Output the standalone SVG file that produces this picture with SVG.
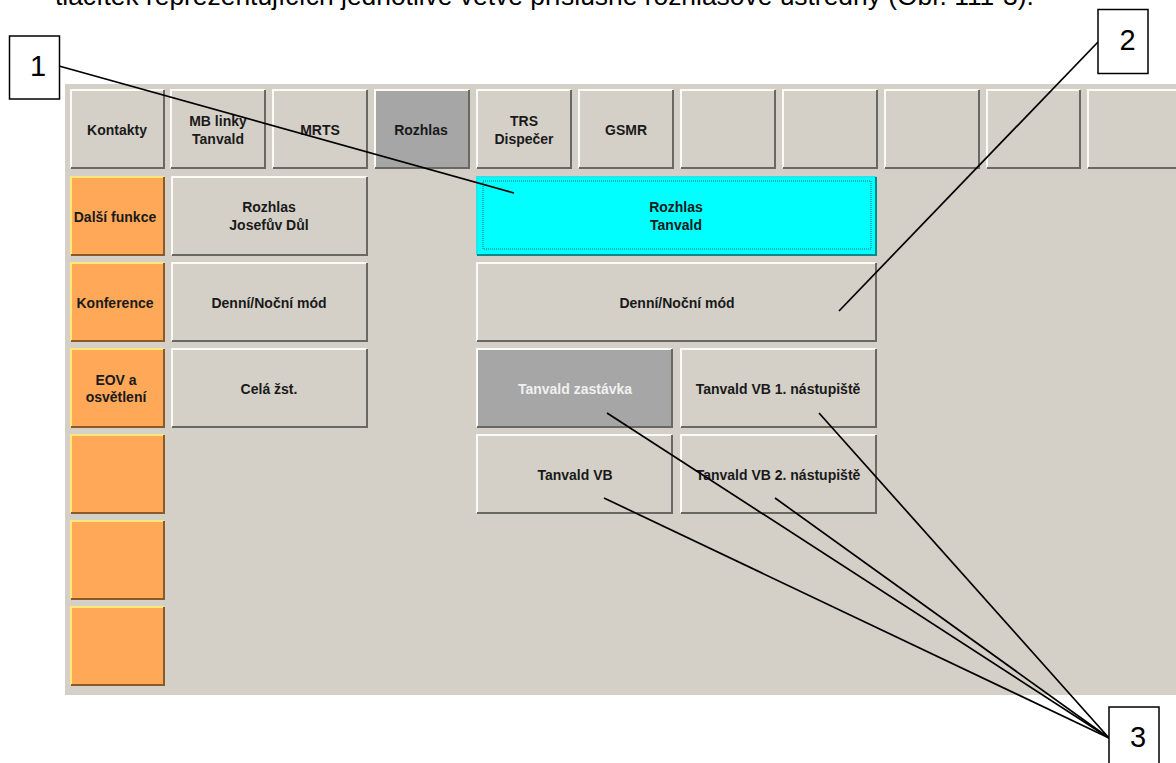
<svg xmlns="http://www.w3.org/2000/svg" width="1176" height="763" viewBox="0 0 1176 763">
<style>
text{font-family:"Liberation Sans",Arial,sans-serif}
.t{font-size:14px;font-weight:bold;fill:#1a1a1a;text-anchor:middle}
.w{fill:#f0f0f0}
.f{fill:#d4d0c8}.o{fill:#ffa858}.d{fill:#a6a6a6}.c{fill:#00ffff}
.hl{stroke:#fbfaf6;stroke-width:2;fill:none}
.sh{stroke:#6a6862;stroke-width:2;fill:none}
.ohl{stroke:#ffe878;stroke-width:2;fill:none}
.osh{stroke:#8a5a28;stroke-width:2;fill:none}
.chl{stroke:#20e8e8;stroke-width:2;fill:none}
.csh{stroke:#008a8a;stroke-width:2;fill:none}
.box{fill:#fff;stroke:#000;stroke-width:1.5}
.n{font-size:29px;fill:#000;text-anchor:middle}
.l{stroke:#000;stroke-width:1.7;fill:none}
</style>
<rect width="1176" height="763" fill="#fff"/>
<text x="55" y="4.500" font-size="26.4" fill="#000">tlačítek reprezentujících jednotlivé větve příslušné rozhlasové ústředny (Obr. 111-3).</text>
<rect id="panel" x="65" y="84" width="1111" height="611" class="f"/>
<g id="btn-kontakty"><rect x="71" y="90" width="93" height="78" class="f"/><path d="M71 168V90H164" class="hl"/><path d="M71 168H164V90" class="sh"/><text x="117" y="135" class="t">Kontakty</text></g>
<g id="btn-mb"><rect x="171" y="90" width="94" height="78" class="f"/><path d="M171 168V90H265" class="hl"/><path d="M171 168H265V90" class="sh"/><text x="218" y="126" class="t">MB linky</text><text x="218" y="144" class="t">Tanvald</text></g>
<g id="btn-mrts"><rect x="273" y="90" width="94" height="78" class="f"/><path d="M273 168V90H367" class="hl"/><path d="M273 168H367V90" class="sh"/><text x="320" y="135" class="t">MRTS</text></g>
<g id="btn-rozhlas"><rect x="375" y="90" width="94" height="78" class="d"/><path d="M375 168V90H469" class="hl"/><path d="M375 168H469V90" class="sh"/><text x="421" y="135" class="t">Rozhlas</text></g>
<g id="btn-trs"><rect x="477" y="90" width="94" height="78" class="f"/><path d="M477 168V90H571" class="hl"/><path d="M477 168H571V90" class="sh"/><text x="524" y="126" class="t">TRS</text><text x="524" y="144" class="t">Dispečer</text></g>
<g id="btn-gsmr"><rect x="579" y="90" width="94" height="78" class="f"/><path d="M579 168V90H673" class="hl"/><path d="M579 168H673V90" class="sh"/><text x="626" y="135" class="t">GSMR</text></g>
<g id="btn-e1"><rect x="681" y="90" width="94" height="78" class="f"/><path d="M681 168V90H775" class="hl"/><path d="M681 168H775V90" class="sh"/></g>
<g id="btn-e2"><rect x="783" y="90" width="94" height="78" class="f"/><path d="M783 168V90H877" class="hl"/><path d="M783 168H877V90" class="sh"/></g>
<g id="btn-e3"><rect x="885" y="90" width="94" height="78" class="f"/><path d="M885 168V90H979" class="hl"/><path d="M885 168H979V90" class="sh"/></g>
<g id="btn-e4"><rect x="987" y="90" width="93" height="78" class="f"/><path d="M987 168V90H1080" class="hl"/><path d="M987 168H1080V90" class="sh"/></g>
<g id="btn-e5"><rect x="1088" y="90" width="88" height="78" class="f"/><path d="M1088 168V90H1176" class="hl"/><path d="M1088 168H1176" class="sh"/></g>
<g id="btn-dalsi"><rect x="71" y="177" width="93" height="78" class="o"/><path d="M71 255V177H164" class="ohl"/><path d="M71 255H164V177" class="osh"/><text x="115" y="222" class="t">Další funkce</text></g>
<g id="btn-konf"><rect x="71" y="263" width="93" height="78" class="o"/><path d="M71 341V263H164" class="ohl"/><path d="M71 341H164V263" class="osh"/><text x="115" y="308" class="t">Konference</text></g>
<g id="btn-eov"><rect x="71" y="349" width="93" height="78" class="o"/><path d="M71 427V349H164" class="ohl"/><path d="M71 427H164V349" class="osh"/><text x="116" y="385" class="t">EOV a</text><text x="116" y="402" class="t">osvětlení</text></g>
<g id="btn-o4"><rect x="71" y="435" width="93" height="78" class="o"/><path d="M71 513V435H164" class="ohl"/><path d="M71 513H164V435" class="osh"/></g>
<g id="btn-o5"><rect x="71" y="521" width="93" height="78" class="o"/><path d="M71 599V521H164" class="ohl"/><path d="M71 599H164V521" class="osh"/></g>
<g id="btn-o6"><rect x="71" y="607" width="93" height="78" class="o"/><path d="M71 685V607H164" class="ohl"/><path d="M71 685H164V607" class="osh"/></g>
<g id="btn-josefuv"><rect x="172" y="177" width="195" height="78" class="f"/><path d="M172 255V177H367" class="hl"/><path d="M172 255H367V177" class="sh"/><text x="269" y="212" class="t">Rozhlas</text><text x="269" y="230" class="t">Josefův Důl</text></g>
<g id="btn-mod1"><rect x="172" y="263" width="195" height="78" class="f"/><path d="M172 341V263H367" class="hl"/><path d="M172 341H367V263" class="sh"/><text x="269" y="308" class="t">Denní/Noční mód</text></g>
<g id="btn-cela"><rect x="172" y="349" width="195" height="78" class="f"/><path d="M172 427V349H367" class="hl"/><path d="M172 427H367V349" class="sh"/><text x="269" y="394" class="t">Celá žst.</text></g>
<g id="btn-tanvald"><rect x="477" y="177" width="399" height="78" class="c"/><path d="M477 255V177H876" class="chl"/><path d="M477 255H876V177" class="csh"/><rect x="483" y="181" width="388" height="68" fill="none" stroke="#0a6a6a" stroke-width="1" stroke-dasharray="1 1"/><text x="676" y="212" class="t">Rozhlas</text><text x="676" y="230" class="t">Tanvald</text></g>
<g id="btn-mod2"><rect x="477" y="263" width="399" height="78" class="f"/><path d="M477 341V263H876" class="hl"/><path d="M477 341H876V263" class="sh"/><text x="677" y="308" class="t">Denní/Noční mód</text></g>
<g id="btn-zastavka"><rect x="477" y="349" width="195" height="78" class="d"/><path d="M477 427V349H672" class="hl"/><path d="M477 427H672V349" class="sh"/><text x="575" y="394" class="t w">Tanvald zastávka</text></g>
<g id="btn-vb1"><rect x="681" y="349" width="195" height="78" class="f"/><path d="M681 427V349H876" class="hl"/><path d="M681 427H876V349" class="sh"/><text x="778" y="394" class="t">Tanvald VB 1. nástupiště</text></g>
<g id="btn-vb"><rect x="477" y="435" width="195" height="78" class="f"/><path d="M477 513V435H672" class="hl"/><path d="M477 513H672V435" class="sh"/><text x="575" y="480" class="t">Tanvald VB</text></g>
<g id="btn-vb2"><rect x="681" y="435" width="195" height="78" class="f"/><path d="M681 513V435H876" class="hl"/><path d="M681 513H876V435" class="sh"/><text x="778" y="480" class="t">Tanvald VB 2. nástupiště</text></g>
<g id="connectors">
<path class="l" d="M59 66L514 193"/>
<path class="l" d="M1098 42L839 311"/>
<path class="l" d="M607 413L1109 738"/>
<path class="l" d="M819 413L1109 738"/>
<path class="l" d="M775 498L1109 738"/>
<path class="l" d="M604 498L1109 738"/>
</g>
<g id="callout-1"><rect x="9.500" y="36" width="50" height="63" class="box"/><text x="38" y="76" class="n">1</text></g>
<g id="callout-2"><rect x="1098" y="9.500" width="50" height="64" class="box"/><text x="1127.500" y="50" class="n">2</text></g>
<g id="callout-3"><rect x="1109" y="707" width="50" height="64" class="box"/><text x="1138" y="747" class="n">3</text></g>
</svg>
